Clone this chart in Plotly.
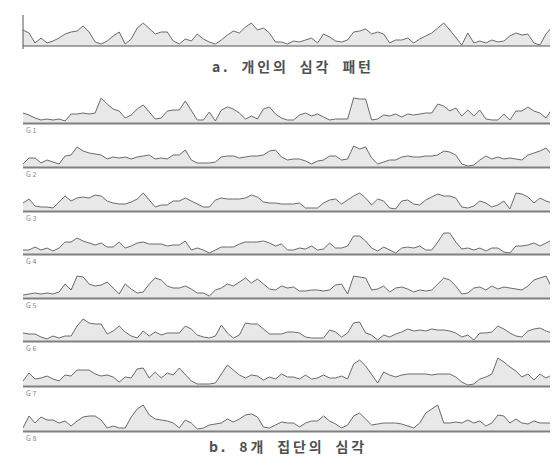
import plotly.graph_objects as go

# ---- data: relative heart-rate level, sampled at equal time steps ----
individual = [16, 13, 3, 8, 3, 5, 8, 12, 14, 15, 20, 14, 4, 2, 5, 10, 14, 2, 7, 18,
              23, 17, 12, 14, 14, 5, 2, 7, 5, 12, 7, 4, 2, 6, 11, 15, 13, 19, 23, 16,
              18, 13, 4, 4, 2, 5, 4, 6, 8, 3, 12, 9, 5, 4, 6, 14, 15, 17, 12, 14,
              12, 3, 6, 6, 8, 3, 7, 10, 13, 18, 23, 16, 9, 1, 13, 3, 5, 3, 6, 4,
              5, 10, 13, 11, 12, 3, 1, 12, 19, 8, 4]

g1 = [10, 8, 5, 3, 4, 3, 4, 2, 9, 9, 10, 9, 10, 25, 19, 14, 12, 5, 8, 14,
      18, 11, 4, 5, 12, 13, 13, 22, 12, 3, 3, 11, 2, 13, 16, 14, 10, 4, 7, 4,
      14, 16, 9, 5, 3, 3, 8, 10, 7, 9, 6, 3, 4, 4, 4, 25, 24, 24, 3, 4,
      8, 7, 9, 6, 9, 8, 9, 10, 10, 19, 17, 12, 15, 7, 13, 7, 13, 4, 3, 3,
      9, 3, 12, 12, 16, 12, 10, 5, 14, 15, 15]
g2 = [3, 9, 9, 4, 7, 5, 3, 11, 12, 20, 16, 14, 13, 12, 8, 10, 9, 10, 8, 10,
      11, 12, 8, 9, 8, 12, 12, 17, 7, 4, 4, 4, 5, 10, 11, 11, 9, 10, 11, 11,
      12, 16, 17, 10, 7, 8, 8, 6, 3, 6, 7, 11, 11, 7, 8, 21, 18, 20, 9, 3,
      5, 7, 7, 10, 11, 10, 10, 11, 11, 12, 16, 15, 12, 3, 1, 2, 7, 11, 8, 10,
      8, 9, 8, 7, 12, 14, 16, 19, 12, 7, 9]
g3 = [8, 12, 5, 4, 4, 3, 9, 15, 10, 13, 14, 13, 16, 15, 10, 8, 7, 7, 9, 12,
      18, 11, 4, 6, 6, 10, 10, 13, 10, 7, 4, 4, 11, 13, 12, 12, 12, 13, 16, 14,
      9, 8, 8, 7, 7, 7, 8, 3, 3, 3, 8, 11, 12, 7, 11, 15, 18, 13, 6, 12,
      10, 3, 2, 10, 11, 7, 6, 11, 14, 17, 15, 15, 13, 4, 3, 5, 10, 8, 4, 6,
      10, 2, 18, 17, 14, 8, 13, 10, 8, 4, 7]
g4 = [4, 4, 7, 4, 6, 3, 6, 12, 12, 16, 13, 11, 9, 11, 7, 7, 12, 6, 8, 11,
      12, 10, 10, 10, 8, 9, 9, 13, 4, 6, 4, 1, 4, 7, 7, 7, 10, 12, 12, 12,
      13, 11, 8, 10, 4, 4, 6, 5, 8, 4, 5, 11, 6, 6, 8, 18, 18, 13, 6, 3,
      7, 4, 1, 6, 7, 6, 8, 4, 4, 12, 21, 21, 12, 5, 6, 4, 6, 3, 6, 6,
      2, 1, 8, 8, 9, 11, 8, 11, 14, 9, 6]
g5 = [3, 4, 5, 4, 5, 4, 6, 14, 8, 22, 21, 14, 12, 13, 16, 10, 4, 14, 9, 5,
      6, 14, 20, 18, 12, 10, 10, 12, 9, 5, 5, 2, 8, 10, 14, 12, 16, 20, 15, 19,
      14, 9, 8, 12, 10, 11, 7, 7, 8, 8, 7, 8, 13, 14, 4, 22, 21, 20, 8, 9,
      12, 6, 10, 11, 9, 6, 8, 7, 8, 14, 20, 18, 12, 4, 5, 10, 11, 8, 12, 9,
      11, 10, 9, 8, 12, 18, 20, 22, 10, 5, 9]
g6 = [8, 7, 7, 4, 2, 5, 3, 5, 5, 15, 22, 18, 17, 17, 7, 10, 15, 9, 5, 3,
      10, 5, 9, 6, 8, 8, 8, 15, 12, 6, 4, 3, 5, 16, 8, 3, 6, 18, 17, 17,
      12, 7, 7, 7, 9, 9, 8, 4, 3, 3, 3, 11, 9, 4, 8, 18, 19, 8, 6, 1,
      6, 4, 7, 9, 12, 10, 11, 10, 12, 11, 11, 10, 8, 4, 6, 1, 8, 8, 9, 15,
      12, 8, 5, 4, 10, 12, 13, 10, 8, 9, 7]
g7 = [5, 13, 7, 8, 10, 7, 5, 11, 10, 16, 16, 16, 12, 10, 11, 9, 4, 9, 8, 17,
      18, 8, 14, 8, 13, 11, 18, 12, 5, 2, 2, 2, 3, 12, 21, 16, 11, 8, 11, 10,
      6, 9, 7, 12, 9, 9, 7, 11, 7, 8, 11, 8, 8, 10, 7, 22, 26, 20, 12, 3,
      14, 11, 9, 11, 12, 12, 12, 12, 11, 12, 12, 12, 9, 4, 1, 2, 7, 9, 12, 28,
      24, 19, 15, 9, 12, 6, 12, 8, 11, 3, 9]
g8 = [3, 15, 8, 14, 11, 11, 8, 10, 5, 10, 14, 15, 15, 11, 3, 5, 3, 3, 14, 22,
      26, 16, 12, 11, 10, 8, 3, 11, 8, 2, 3, 6, 7, 8, 12, 9, 12, 16, 17, 14,
      4, 3, 6, 9, 8, 8, 4, 8, 10, 10, 15, 10, 7, 3, 6, 15, 18, 12, 6, 7,
      8, 8, 8, 7, 5, 3, 8, 18, 22, 26, 8, 8, 9, 8, 11, 8, 10, 5, 8, 16,
      15, 8, 12, 8, 7, 10, 8, 8, 8, 7, 3]

group_values = [g1, g2, g3, g4, g5, g6, g7, g8]
group_labels = ["G 1", "G 2", "G 3", "G 4", "G 5", "G 6", "G 7", "G 8"]
title_a = "a. 개인의 심각 패턴"
title_b = "b. 8개 집단의 심각"

# ---- layout (pixels) ----
W, H = 558, 458
X0, X1 = 15, 556
TOP_PANEL = (8, 38)
BASELINES = [115, 159, 203, 246, 290, 333, 378, 423]
PANEL_H = 30
FONT = "Noto Sans CJK KR"


def py(v):
    return 1 - v / H


def spaced(text):
    # widen the title like the typeset original: thin gap between glyphs, wide gap between words
    words = text.split(" ")
    return "\u2003".join("\u2009".join(w) for w in words)


fig = go.Figure()
layout = {}
shapes = []
annotations = []

all_series = [individual] + group_values
for i, vals in enumerate(all_series):
    sfx = "" if i == 0 else str(i + 1)
    if i == 0:
        top, bot = TOP_PANEL
    else:
        bot = BASELINES[i - 1]
        top = bot - PANEL_H
    fig.add_trace(go.Scatter(
        x=list(range(len(vals))), y=vals,
        xaxis="x" + sfx, yaxis="y" + sfx,
        mode="lines", fill="tozeroy",
        fillcolor="#e8e8e8",
        line=dict(color="#6a6a6a", width=1),
        hoverinfo="skip", showlegend=False,
    ))
    layout["xaxis" + sfx] = dict(domain=[X0 / W, X1 / W], range=[0, len(vals) - 1],
                                 visible=False, anchor="y" + sfx, fixedrange=True)
    layout["yaxis" + sfx] = dict(domain=[py(bot), py(top)], range=[0, PANEL_H],
                                 visible=False, anchor="x" + sfx, fixedrange=True)

# top panel frame: baseline + vertical edges
shapes.append(dict(type="line", xref="paper", yref="paper",
                   x0=X0 / W, x1=X1 / W, y0=py(38), y1=py(38),
                   line=dict(color="#555555", width=1)))
shapes.append(dict(type="line", xref="paper", yref="paper",
                   x0=X0 / W, x1=X0 / W, y0=py(41), y1=py(7),
                   line=dict(color="#555555", width=1)))
shapes.append(dict(type="line", xref="paper", yref="paper",
                   x0=X1 / W, x1=X1 / W, y0=py(41), y1=py(12),
                   line=dict(color="#555555", width=1)))

# group baselines and labels
for b, lab in zip(BASELINES, group_labels):
    shapes.append(dict(type="line", xref="paper", yref="paper",
                       x0=X0 / W, x1=X1 / W, y0=py(b + 0.5), y1=py(b + 0.5),
                       line=dict(color="#808080", width=2)))
    annotations.append(dict(text=lab, xref="paper", yref="paper",
                            x=(X0 + 1) / W, y=py(b + 7), xanchor="left", yanchor="middle",
                            showarrow=False, font=dict(family=FONT, size=7, color="#888888")))

annotations.append(dict(text="<b>" + spaced(title_a) + "</b>", xref="paper", yref="paper",
                        x=283 / W, y=py(58), xanchor="center", yanchor="middle",
                        showarrow=False, font=dict(family=FONT, size=14, color="#505050")))
annotations.append(dict(text="<b>" + spaced(title_b) + "</b>", xref="paper", yref="paper",
                        x=278 / W, y=py(438), xanchor="center", yanchor="middle",
                        showarrow=False, font=dict(family=FONT, size=14, color="#505050")))

fig.update_layout(
    width=W, height=H,
    margin=dict(l=0, r=0, t=0, b=0),
    paper_bgcolor="white", plot_bgcolor="rgba(0,0,0,0)",
    shapes=shapes, annotations=annotations,
    **layout,
)

fig.write_html("out.html")
